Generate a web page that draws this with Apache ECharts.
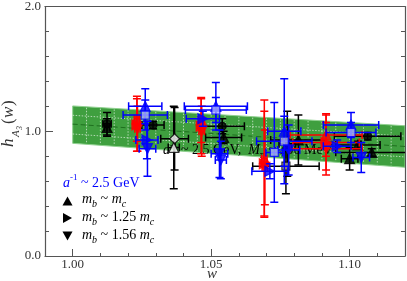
<!DOCTYPE html>
<html><head><meta charset="utf-8">
<script src="https://cdn.jsdelivr.net/npm/echarts@6/dist/echarts.min.js"></script>
<style>html,body{margin:0;padding:0;background:#fff}#c{width:407px;height:281px}</style>
</head><body><div id="c"></div>
<script>
// ---- axis ticks ----
const xMajorTicks = [1.00, 1.05, 1.10];
const xMinorInterval = 0.01;
const yTicks = [0, 1, 2];
// ---- fit band ----
const bandW = [1.00, 1.12];
const bandUpper = [1.203, 1.044];
const bandLower = [0.903, 0.711];
const bandCentral = [1.057, 0.878];
// ---- data points: [w, h, wErr, hErr, marker] ----
const blackPoints = [
  [1.0124, 1.06, 0.0015, 0.09, 'circ'],
  [1.0124, 1.03, 0.0010, 0.07, 'up'],
  [1.0290, 1.05, 0.0040, 0.03, 'circ'],
  [1.0368, 0.94, 0.0050, 0.25, 'diaOpen'],
  [1.0365, 0.87, 0.0020, 0.33, 'upOpen'],
  [1.0540, 1.04, 0.0080, 0.06, 'circ'],
  [1.0545, 0.95, 0.0065, 0.05, 'up'],
  [1.0815, 0.93, 0.0100, 0.20, 'up'],
  [1.0775, 0.90, 0.0030, 0.26, 'up'],
  [1.0770, 0.72, 0.0120, 0.22, 'sqGray'],
  [1.1065, 0.96, 0.0120, 0.03, 'circ'],
  [1.1030, 0.89, 0.0080, 0.03, 'up'],
  [1.1080, 0.83, 0.0130, 0.03, 'up'],
  [1.1000, 0.78, 0.0030, 0.09, 'up']
];
const redPoints = [
  [1.0232, 1.10, 0.0010, 0.18, 'up'],
  [1.0232, 1.05, 0.0010, 0.21, 'right'],
  [1.0234, 1.02, 0.0010, 0.18, 'down'],
  [1.0464, 1.09, 0.0010, 0.18, 'up'],
  [1.0464, 1.04, 0.0010, 0.22, 'right'],
  [1.0466, 1.00, 0.0010, 0.20, 'down'],
  [1.0692, 0.78, 0.0010, 0.47, 'up'],
  [1.0692, 0.74, 0.0010, 0.42, 'right'],
  [1.0694, 0.71, 0.0010, 0.30, 'down'],
  [1.0915, 0.97, 0.0130, 0.17, 'up'],
  [1.0915, 0.91, 0.0120, 0.22, 'right'],
  [1.0915, 0.86, 0.0130, 0.21, 'down']
];
const bluePoints = [
  [1.0262, 1.20, 0.0060, 0.14, 'up'],
  [1.0262, 1.13, 0.0080, 0.12, 'sqLight'],
  [1.0268, 0.93, 0.0040, 0.15, 'right'],
  [1.0270, 0.86, 0.0030, 0.22, 'down'],
  [1.0517, 1.20, 0.0114, 0.19, 'up'],
  [1.0517, 1.17, 0.0110, 0.10, 'sqLight'],
  [1.0470, 1.10, 0.0060, 0.06, 'right'],
  [1.0530, 0.82, 0.0030, 0.19, 'down'],
  [1.0535, 0.77, 0.0020, 0.15, 'down'],
  [1.0728, 0.83, 0.0030, 0.40, 'sqLight'],
  [1.0764, 1.00, 0.0060, 0.42, 'up'],
  [1.0764, 0.92, 0.0100, 0.20, 'sqLight'],
  [1.0780, 0.85, 0.0040, 0.20, 'down'],
  [1.0712, 0.68, 0.0065, 0.06, 'right'],
  [1.1005, 1.05, 0.0100, 0.10, 'up'],
  [1.1005, 0.99, 0.0090, 0.08, 'sqLight'],
  [1.0955, 0.88, 0.0050, 0.05, 'right'],
  [1.1042, 0.79, 0.0030, 0.12, 'down']
];

const SERIF = "'Liberation Serif', 'DejaVu Serif', serif";
const shapes = {
  up: 'triangle', upOpen: 'triangle',
  right: 'path://M0,0L10,5L0,10Z',
  down: 'path://M0,0L10,0L5,10Z',
  sqLight: 'rect', sqGray: 'rect',
  circ: 'circle', diaOpen: 'diamond'
};
const lightFill = { '#0000ff': '#aab0ff', '#ff0000': '#ffaaaa', '#000000': '#999999' };

function errRender(color) {
  return function (params, api) {
    const w = api.value(0), h = api.value(1), we = api.value(2), he = api.value(3);
    const c = api.coord([w, h]);
    const t = api.coord([w, h + he]), b = api.coord([w, h - he]);
    const l = api.coord([w - we, h]), r = api.coord([w + we, h]);
    const cap = 4;
    const st = { stroke: color, lineWidth: 1.5 };
    const ch = [
      { type: 'line', shape: { x1: c[0], y1: t[1], x2: c[0], y2: b[1] }, style: st },
      { type: 'line', shape: { x1: c[0] - cap, y1: t[1], x2: c[0] + cap, y2: t[1] }, style: st },
      { type: 'line', shape: { x1: c[0] - cap, y1: b[1], x2: c[0] + cap, y2: b[1] }, style: st }
    ];
    if (r[0] - l[0] > 4) {
      ch.push({ type: 'line', shape: { x1: l[0], y1: c[1], x2: r[0], y2: c[1] }, style: st });
      ch.push({ type: 'line', shape: { x1: l[0], y1: c[1] - cap, x2: l[0], y2: c[1] + cap }, style: st });
      ch.push({ type: 'line', shape: { x1: r[0], y1: c[1] - cap, x2: r[0], y2: c[1] + cap }, style: st });
    }
    return { type: 'group', children: ch };
  };
}

function markerData(points, color) {
  return points.map(p => {
    const k = p[4];
    let fill = color, border = color;
    if (k === 'upOpen' || k === 'diaOpen') fill = '#ffffff';
    if (k === 'sqLight' || k === 'sqGray') fill = lightFill[color];
    const size = (k === 'sqLight' || k === 'sqGray') ? 8 : (k === 'circ' ? 8 : 10);
    return {
      value: [p[0], p[1]], symbol: shapes[k], symbolSize: size,
      itemStyle: { color: fill, borderColor: border, borderWidth: 1.2 }
    };
  });
}

function bandRender(params, api) {
  const lerp = (arr, w) => arr[0] + (arr[1] - arr[0]) * (w - bandW[0]) / (bandW[1] - bandW[0]);
  const pt = (w, h) => api.coord([w, h]);
  const poly = [pt(bandW[0], bandUpper[0]), pt(bandW[1], bandUpper[1]), pt(bandW[1], bandLower[1]), pt(bandW[0], bandLower[0])];
  const ch = [{ type: 'polygon', shape: { points: poly }, style: { fill: '#3f9f3f', stroke: '#8fd08f', lineWidth: 1 } }];
  const ws = [];
  for (let w = bandW[0] + 0.005; w < bandW[1] - 0.001; w += 0.005) ws.push(w);
  ws.forEach(w => {
    const a = pt(w, lerp(bandUpper, w)), b = pt(w, lerp(bandLower, w));
    ch.push({ type: 'line', shape: { x1: a[0], y1: a[1] + 1, x2: b[0], y2: b[1] - 1 }, style: { stroke: 'rgba(255,255,255,0.75)', lineWidth: 0.8, lineDash: [1.5, 1.5] } });
  });
  [0.25, 0.75].forEach(f => {
    const a = pt(bandW[0], bandLower[0] + (bandUpper[0] - bandLower[0]) * f);
    const b = pt(bandW[1], bandLower[1] + (bandUpper[1] - bandLower[1]) * f);
    ch.push({ type: 'line', shape: { x1: a[0], y1: a[1], x2: b[0], y2: b[1] }, style: { stroke: 'rgba(255,255,255,0.75)', lineWidth: 0.8, lineDash: [1.5, 1.5] } });
  });
  const c0 = pt(bandW[0], bandCentral[0]), c1 = pt(bandW[1], bandCentral[1]);
  ch.push({ type: 'line', shape: { x1: c0[0], y1: c0[1], x2: c1[0], y2: c1[1] }, style: { stroke: '#1f6f1f', lineWidth: 1, lineDash: [5, 3] } });
  return { type: 'group', children: ch };
}

// text run helper with sub/superscripts (baseline positioned)
const mctx = document.createElement('canvas').getContext('2d');
function fontStr(fs, it) { return (it ? 'italic ' : '') + fs + 'px ' + SERIF; }
function textRun(x, baseline, parts, color, z) {
  const out = [];
  let cx = x;
  parts.forEach(p => {
    const [txt, fs, it, dy] = p;
    mctx.font = fontStr(fs, it);
    const wdt = mctx.measureText(txt).width;
    out.push({
      type: 'text', x: cx, y: baseline + (dy || 0) - 0.33 * fs, z: z || 20,
      style: { text: txt, font: fontStr(fs, it), fill: color, align: 'left', verticalAlign: 'middle' }
    });
    cx += wdt;
  });
  return out;
}

const chart = echarts.init(document.getElementById('c'), null, { renderer: 'canvas' });
const axisColor = '#555';
const labelStyle = { fontFamily: SERIF, fontSize: 13, color: '#333' };
const graphics = [];
// middle annotation
graphics.push(...textRun(163, 155, [['a', 14, true], ['-1', 9, false, -6], [' ~ 2.5 GeV,  ', 14, false], ['M', 14, true], ['π', 10, false, 4], [' ~ 300 MeV', 14, false]], '#000', 2));
// legend
graphics.push(...textRun(63, 188, [['a', 14, true], ['-1', 9, false, -7], [' ~ 2.5 GeV', 14, false]], '#0000ff'));
const legendRows = [
  { y: 204, parts: [['m', 14, true], ['b', 10, true, 4], [' ~ ', 14, false], ['m', 14, true], ['c', 10, true, 4]] },
  { y: 222, parts: [['m', 14, true], ['b', 10, true, 4], [' ~ 1.25 ', 14, false], ['m', 14, true], ['c', 10, true, 4]] },
  { y: 240, parts: [['m', 14, true], ['b', 10, true, 4], [' ~ 1.56 ', 14, false], ['m', 14, true], ['c', 10, true, 4]] }
];
const legendSymPts = [
  [[62.5, 205.5], [67.5, 196.5], [72.5, 205.5]],
  [[63, 213], [72, 218], [63, 223]],
  [[62.5, 231.5], [72.5, 231.5], [67.5, 240.5]]
];
legendRows.forEach((r, i) => {
  graphics.push({ type: 'polygon', z: 20, shape: { points: legendSymPts[i] }, style: { fill: '#000' } });
  graphics.push(...textRun(82, r.y, r.parts, '#000'));
});
// x axis name
graphics.push(...textRun(207, 279, [['w', 15, true]], '#333'));
// y axis name (rotated)
graphics.push({
  type: 'group', x: 14, y: 147, rotation: Math.PI / 2, z: 20,
  children: [
    { type: 'text', x: 0, y: -5, style: { text: 'h', font: fontStr(17, true), fill: '#333', verticalAlign: 'middle' } },
    { type: 'text', x: 10, y: 2, style: { text: 'A', font: fontStr(11, true), fill: '#333', verticalAlign: 'middle' } },
    { type: 'text', x: 17, y: 6, style: { text: '3', font: fontStr(8, true), fill: '#333', verticalAlign: 'middle' } },
    { type: 'text', x: 23, y: -5, style: { text: '(', font: fontStr(17, false), fill: '#333', verticalAlign: 'middle' } },
    { type: 'text', x: 29, y: -5, style: { text: 'w', font: fontStr(17, true), fill: '#333', verticalAlign: 'middle' } },
    { type: 'text', x: 41, y: -5, style: { text: ')', font: fontStr(17, false), fill: '#333', verticalAlign: 'middle' } }
  ]
});

const xBase = { type: 'value', min: 0.99, max: 1.12, splitLine: { show: false }, axisLine: { onZero: false } };
const yBase = { type: 'value', min: 0, max: 2, interval: 1, splitLine: { show: false }, axisLine: { onZero: false } };

const option = {
  animation: false,
  backgroundColor: '#fff',
  grid: { left: 45, right: 2, top: 5, bottom: 25, containLabel: false },
  xAxis: [
    Object.assign({}, xBase, {
      position: 'bottom',
      axisLine: { show: true, onZero: false, lineStyle: { color: axisColor, width: 1.2 } },
      axisTick: { show: true, inside: true, length: 7, customValues: xMajorTicks, lineStyle: { color: axisColor } },
      axisLabel: { show: true, customValues: xMajorTicks, formatter: v => v.toFixed(2), margin: 2, ...labelStyle }
    }),
    Object.assign({}, xBase, {
      position: 'bottom', interval: xMinorInterval,
      axisLine: { show: false, onZero: false },
      axisTick: { show: true, inside: true, length: 3, lineStyle: { color: axisColor } },
      axisLabel: { show: false }
    }),
    Object.assign({}, xBase, {
      position: 'top',
      axisLine: { show: true, onZero: false, lineStyle: { color: axisColor, width: 1.2 } },
      axisTick: { show: false }, axisLabel: { show: false }
    })
  ],
  yAxis: [
    Object.assign({}, yBase, {
      position: 'left',
      axisLine: { show: true, onZero: false, lineStyle: { color: axisColor, width: 1.2 } },
      axisTick: { show: true, inside: true, length: 8, lineStyle: { color: axisColor } },
      minorTick: { show: true, splitNumber: 5, length: 4, lineStyle: { color: axisColor } },
      axisLabel: { show: true, formatter: v => v.toFixed(1), margin: 4, ...labelStyle }
    }),
    Object.assign({}, yBase, {
      position: 'right',
      axisLine: { show: true, onZero: false, lineStyle: { color: axisColor, width: 1.2 } },
      axisTick: { show: true, inside: true, length: 8, lineStyle: { color: axisColor } },
      minorTick: { show: true, splitNumber: 5, length: 4, lineStyle: { color: axisColor } },
      axisLabel: { show: false }
    })
  ],
  graphic: graphics,
  series: [
    { type: 'custom', z: 1, clip: true, renderItem: bandRender, data: [[bandW[0], bandCentral[0]]], silent: true },
    { type: 'custom', z: 3, clip: true, renderItem: errRender('#000000'), data: blackPoints.map(p => p.slice(0, 4)), encode: { x: 0, y: 1 } },
    { type: 'scatter', z: 3, clip: true, data: markerData(blackPoints, '#000000') },
    { type: 'custom', z: 4, clip: true, renderItem: errRender('#ff0000'), data: redPoints.map(p => p.slice(0, 4)), encode: { x: 0, y: 1 } },
    { type: 'scatter', z: 4, clip: true, data: markerData(redPoints, '#ff0000') },
    { type: 'custom', z: 5, clip: true, renderItem: errRender('#0000ff'), data: bluePoints.map(p => p.slice(0, 4)), encode: { x: 0, y: 1 } },
    { type: 'scatter', z: 5, clip: true, data: markerData(bluePoints, '#0000ff') }
  ]
};
chart.setOption(option);
</script></body></html>
